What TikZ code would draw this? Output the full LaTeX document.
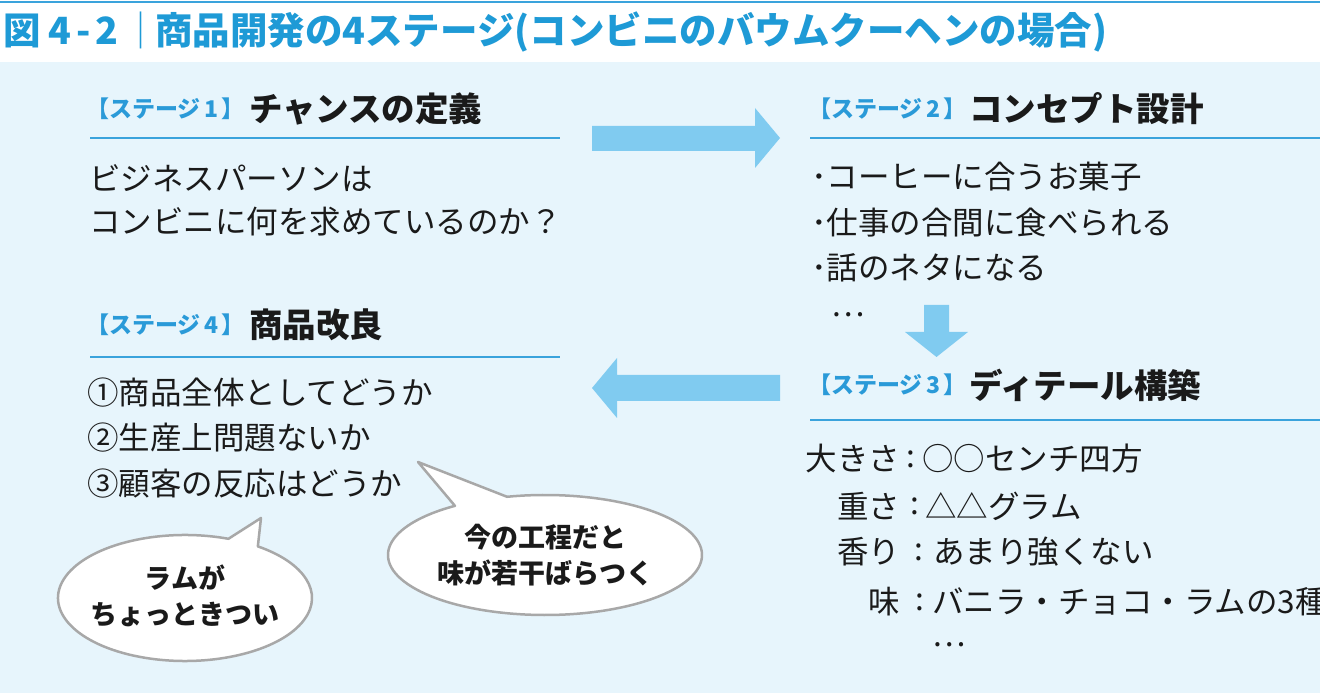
\documentclass[tikz,border=0pt]{standalone}
\usepackage{fontspec}
\setmainfont{Noto Sans CJK JP}
\definecolor{titleblue}{HTML}{1E9AD6}
\definecolor{ruleblue}{HTML}{3AA3DC}
\definecolor{tagblue}{HTML}{2A9AD8}
\definecolor{arrowblue}{HTML}{80CBF0}
\definecolor{bgblue}{HTML}{E7F5FC}
\definecolor{bubgray}{HTML}{A8A8A8}
\definecolor{ink}{HTML}{1A1A1A}
\tikzset{
  txt/.style={inner sep=0pt, outer sep=0pt},
  titletxt/.style={txt, font=\fontsize{37.5}{40}\selectfont\bfseries, text=titleblue},
  bartxt/.style={txt, font=\fontsize{37}{40}\selectfont, text=titleblue},
  tagtxt/.style={txt, anchor=west, font=\fontsize{23}{25}\selectfont\bfseries, text=tagblue},
  headtxt/.style={txt, anchor=west, font=\fontsize{33.5}{35}\selectfont\bfseries, text=ink},
  bodytxt/.style={txt, anchor=west, font=\fontsize{31.5}{33}\selectfont, text=ink},
  labeltxt/.style={txt, anchor=east, font=\fontsize{31.5}{33}\selectfont, text=ink},
  bubtxt/.style={txt, align=center, font=\fontsize{27}{36}\selectfont\bfseries, text=ink},
  rulerline/.style={draw=ruleblue, line width=2pt},
  blockarrow/.style={fill=arrowblue},
  bubble/.style={fill=white, draw=bubgray, line width=2.5pt, line join=round}
}
\begin{document}
\begin{tikzpicture}[x=1pt,y=1pt]
\useasboundingbox (0,0) rectangle (1320,693);
\clip (0,0) rectangle (1320,693);
\fill[white] (0,0) rectangle (1320,693);
\fill[bgblue] (0,0) rectangle (1320,631);
\draw[ruleblue, line width=2.5pt] (0,691) -- (1320,691);

% title
\node[titletxt, anchor=base west] (fig) at (4,648) {図\hspace{7pt}4\hspace{5pt}-\hspace{5pt}2};
\node[bartxt, anchor=base] (bar) at (141,648) {｜};
\node[titletxt, anchor=base west] (ttl) at (155,648) {商品開発の4ステージ(コンビニのバウムクーヘンの場合)};

% stage 1
\node[tagtxt] (s1tag) at (86,584) {【ステージ\hspace{4pt}1\hspace{3pt}】};
\node[headtxt] (s1head) at (249,584) {チャンスの定義};
\coordinate (s1a) at (90,555);
\coordinate (s1b) at (560,555);
\draw[rulerline] (s1a) -- (s1b);
\node[bodytxt] (s1l1) at (89,515) {ビジネスパーソンは};
\node[bodytxt] (s1l2) at (89,471) {コンビニに何を求めているのか？};

% stage 2
\node[tagtxt] (s2tag) at (808,584) {【ステージ\hspace{4pt}2\hspace{3pt}】};
\node[headtxt] (s2head) at (969,584) {コンセプト設計};
\coordinate (s2a) at (810,555);
\coordinate (s2b) at (1320,555);
\draw[rulerline] (s2a) -- (s2b);
\node[bodytxt] (s2l1) at (811,516) {･コーヒーに合うお菓子};
\node[bodytxt] (s2l2) at (811,470) {･仕事の合間に食べられる};
\node[bodytxt] (s2l3) at (811,425) {･話のネタになる};
\node[bodytxt] (s2l4) at (831,378) {…};

% stage 3
\node[tagtxt] (s3tag) at (808,308) {【ステージ\hspace{4pt}3\hspace{3pt}】};
\node[headtxt] (s3head) at (969,308) {ディテール構築};
\coordinate (s3a) at (810,273);
\coordinate (s3b) at (1320,273);
\draw[rulerline] (s3a) -- (s3b);
\node[labeltxt] (k1) at (900,234) {大きさ};
\node[labeltxt] (k2) at (900,187) {重さ};
\node[labeltxt] (k3) at (900,141) {香り};
\node[labeltxt] (k4) at (900,91) {味};
\node[bodytxt] (c1) at (906,234) {:};
\node[bodytxt] (c2) at (910,187) {:};
\node[bodytxt] (c3) at (914,141) {:};
\node[bodytxt] (c4) at (915,91) {:};
\node[bodytxt] (v1) at (922,234) {○○センチ四方};
\node[bodytxt] (v2) at (925,187) {△△グラム};
\node[bodytxt] (v3) at (933,141) {あまり強くない};
\node[bodytxt] (v4) at (932,91) {バニラ・チョコ・ラムの3種};
\node[bodytxt] (v5) at (932,48) {…};

% stage 4
\node[tagtxt] (s4tag) at (86,368) {【ステージ\hspace{4pt}4\hspace{3pt}】};
\node[headtxt] (s4head) at (249,368) {商品改良};
\coordinate (s4a) at (90,336);
\coordinate (s4b) at (560,336);
\draw[rulerline] (s4a) -- (s4b);
\node[bodytxt] (s4l1) at (87,300) {①商品全体としてどうか};
\node[bodytxt] (s4l2) at (87,255) {②生産上問題ないか};
\node[bodytxt] (s4l3) at (87,209) {③顧客の反応はどうか};

% block arrows
\fill[blockarrow] (592,567) -- (755,567) -- (755,585) -- (780,555) -- (755,525) -- (755,542) -- (592,542) -- cycle;
\fill[blockarrow] (780,318) -- (617,318) -- (617,335) -- (592,305) -- (617,275) -- (617,292) -- (780,292) -- cycle;
\fill[blockarrow] (924,388) -- (949,388) -- (949,361) -- (968,361) -- (936.5,336) -- (905,361) -- (924,361) -- cycle;

% bubbles
\path[bubble] (185,95) ++(70:127 and 63) arc[start angle=70, end angle=415, x radius=127, y radius=63] -- (261,175) -- cycle;
\node[bubtxt] (b1) at (185,97) {ラムが\\ちょっときつい};
\path[bubble] (545,138) ++(125:157 and 60) arc[start angle=125, end angle=464, x radius=157, y radius=60] -- (418,231) -- cycle;
\node[bubtxt] (b2) at (545,138) {今の工程だと\\味が若干ばらつく};
\end{tikzpicture}
\end{document}
